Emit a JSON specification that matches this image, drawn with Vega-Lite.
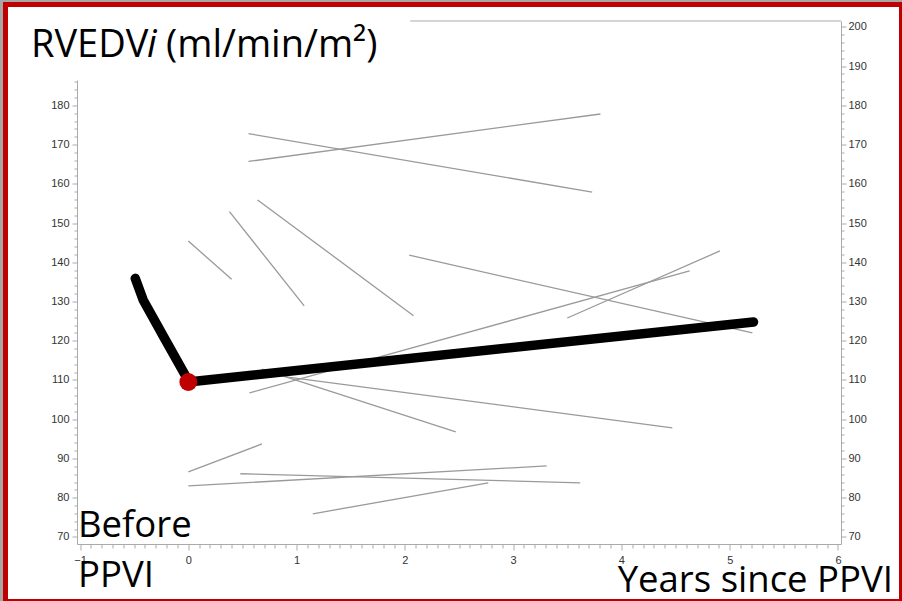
{
  "$schema": "https://vega.github.io/schema/vega-lite/v6.json",
  "width": 896,
  "height": 597,
  "autosize": {"type": "none"},
  "padding": {"left": 5.5, "top": 4.5, "right": 0, "bottom": 0},
  "background": "#a6a6a6",
  "config": {
    "view": {"fill": "white", "stroke": "#c00000", "strokeWidth": 5},
    "axis": {
      "grid": false,
      "title": null,
      "domainColor": "#aaaaaa",
      "tickColor": "#aaaaaa",
      "labelColor": "#333333",
      "labelFont": "Liberation Sans",
      "labelFontSize": 11
    }
  },
  "datasets": {
    "patients": [
      {"id": 1, "x": 0.556, "y": 165.7}, {"id": 1, "x": 3.806, "y": 177.8},
      {"id": 2, "x": 0.556, "y": 172.8}, {"id": 2, "x": 3.73, "y": 157.9},
      {"id": 3, "x": 0.0, "y": 145.4}, {"id": 3, "x": 0.4, "y": 135.7},
      {"id": 4, "x": 0.38, "y": 152.9}, {"id": 4, "x": 1.07, "y": 128.9},
      {"id": 5, "x": 0.64, "y": 155.9}, {"id": 5, "x": 2.08, "y": 126.4},
      {"id": 6, "x": 2.04, "y": 141.8}, {"id": 6, "x": 5.21, "y": 122.0},
      {"id": 7, "x": 0.565, "y": 106.7}, {"id": 7, "x": 4.63, "y": 137.8},
      {"id": 8, "x": 3.5, "y": 125.8}, {"id": 8, "x": 4.91, "y": 142.9},
      {"id": 9, "x": 0.68, "y": 112.8}, {"id": 9, "x": 2.47, "y": 96.8},
      {"id": 10, "x": 0.9, "y": 110.8}, {"id": 10, "x": 4.47, "y": 97.8},
      {"id": 11, "x": 0.0, "y": 86.6}, {"id": 11, "x": 0.68, "y": 93.7},
      {"id": 12, "x": 0.0, "y": 83.0}, {"id": 12, "x": 3.31, "y": 88.1},
      {"id": 13, "x": 0.48, "y": 86.1}, {"id": 13, "x": 3.62, "y": 83.8},
      {"id": 14, "x": 1.15, "y": 75.9}, {"id": 14, "x": 2.77, "y": 83.8}
    ],
    "mean": [
      {"x": -0.49, "y": 135.9},
      {"x": -0.417, "y": 130.4},
      {"x": -0.213, "y": 120.3},
      {"x": -0.028, "y": 111.2},
      {"x": 0.0, "y": 109.5},
      {"x": 5.22, "y": 124.8}
    ],
    "dot": [{"x": 0.0, "y": 109.5}],
    "frame": [{"x": 2.05, "x2": 6.028, "y": 201.5}],
    "titleNormal": [
      {"label": "RVEDV", "x": -1.453, "y": 192.3},
      {"label": "(ml/min/m²)", "x": -0.206, "y": 192.3}
    ],
    "titleItalic": [{"label": "i", "x": -0.382, "y": 192.3}],
    "textsLeft": [
      {"label": "Before", "x": -1.019, "y": 70.0},
      {"label": "PPVI", "x": -1.019, "y": 57.24}
    ],
    "textsRight": [{"label": "Years since PPVI", "x": 6.508, "y": 55.97}]
  },
  "layer": [
    {
      "data": {"name": "patients"},
      "mark": {"type": "line", "color": "#9a9a9a", "strokeWidth": 1.3},
      "encoding": {
        "detail": {"field": "id", "type": "nominal"},
        "x": {"field": "x", "type": "quantitative",
              "scale": {"domain": [-1.028, 6.028], "range": [71.5, 835.5], "nice": false, "zero": false},
              "axis": {"orient": "bottom", "offset": -57.5, "values": [-1, 0, 1, 2, 3, 4, 5, 6], "tickSize": 6, "labelPadding": 4}},
        "y": {"field": "y", "type": "quantitative",
              "scale": {"domain": [68.2, 201.5], "range": [539.5, 16.5], "nice": false, "zero": false},
              "axis": {"orient": "right", "offset": -60.5, "values": [70, 80, 90, 100, 110, 120, 130, 140, 150, 160, 170, 180, 190, 200], "tickSize": 5, "labelPadding": 2}}
      }
    },
    {
      "data": {"name": "mean"},
      "mark": {"type": "line", "color": "black", "strokeWidth": 9.5, "strokeCap": "round", "strokeJoin": "round"},
      "encoding": {
        "x": {"field": "x", "type": "quantitative",
              "scale": {"domain": [-1.028, 6.028], "range": [71.5, 835.5], "nice": false, "zero": false},
              "axis": {"orient": "bottom", "offset": -57.5, "domain": false, "labels": false, "tickSize": 4,
                       "values": [-0.9, -0.8, -0.7, -0.6, -0.5, -0.4, -0.3, -0.2, -0.1, 0.1, 0.2, 0.3, 0.4, 0.5, 0.6, 0.7, 0.8, 0.9, 1.1, 1.2, 1.3, 1.4, 1.5, 1.6, 1.7, 1.8, 1.9, 2.1, 2.2, 2.3, 2.4, 2.5, 2.6, 2.7, 2.8, 2.9, 3.1, 3.2, 3.3, 3.4, 3.5, 3.6, 3.7, 3.8, 3.9, 4.1, 4.2, 4.3, 4.4, 4.5, 4.6, 4.7, 4.8, 4.9, 5.1, 5.2, 5.3, 5.4, 5.5, 5.6, 5.7, 5.8, 5.9]}},
        "y": {"field": "y", "type": "quantitative",
              "scale": {"domain": [68.2, 201.5], "range": [539.5, 16.5], "nice": false, "zero": false},
              "axis": {"orient": "right", "offset": -60.5, "domain": false, "labels": false, "tickSize": 3,
                       "values": [72, 74, 76, 78, 82, 84, 86, 88, 92, 94, 96, 98, 102, 104, 106, 108, 112, 114, 116, 118, 122, 124, 126, 128, 132, 134, 136, 138, 142, 144, 146, 148, 152, 154, 156, 158, 162, 164, 166, 168, 172, 174, 176, 178, 182, 184, 186, 188, 192, 194, 196, 198]}}
      }
    },
    {
      "data": {"name": "dot"},
      "mark": {"type": "point", "filled": true, "color": "#c00000", "opacity": 1, "size": 320},
      "encoding": {
        "x": {"field": "x", "type": "quantitative",
              "scale": {"domain": [-1.028, 6.028], "range": [71.5, 835.5], "nice": false, "zero": false},
              "axis": null},
        "y": {"field": "y", "type": "quantitative",
              "scale": {"domain": [68.2, 186.46], "range": [539.5, 75.5], "nice": false, "zero": false},
              "axis": {"orient": "left", "offset": -71.5, "values": [70, 80, 90, 100, 110, 120, 130, 140, 150, 160, 170, 180], "tickSize": 5, "labelPadding": 3}}
      }
    },
    {
      "data": {"name": "frame"},
      "mark": {"type": "rule", "color": "#aaaaaa", "strokeWidth": 1},
      "encoding": {
        "x": {"field": "x", "type": "quantitative",
              "scale": {"domain": [-1.028, 6.028], "range": [71.5, 835.5], "nice": false, "zero": false},
              "axis": null},
        "x2": {"field": "x2"},
        "y": {"field": "y", "type": "quantitative",
              "scale": {"domain": [68.2, 186.46], "range": [539.5, 75.5], "nice": false, "zero": false},
              "axis": {"orient": "left", "offset": -71.5, "domain": false, "labels": false, "tickSize": 3,
                       "values": [72, 74, 76, 78, 82, 84, 86, 88, 92, 94, 96, 98, 102, 104, 106, 108, 112, 114, 116, 118, 122, 124, 126, 128, 132, 134, 136, 138, 142, 144, 146, 148, 152, 154, 156, 158, 162, 164, 166, 168, 172, 174, 176, 178, 182, 184, 186]}}
      }
    },
    {
      "data": {"name": "titleNormal"},
      "mark": {"type": "text", "font": "Open Sans", "fontSize": 38, "color": "black", "align": "left", "baseline": "alphabetic"},
      "encoding": {
        "text": {"field": "label"},
        "x": {"field": "x", "type": "quantitative",
              "scale": {"domain": [-1.028, 6.028], "range": [71.5, 835.5], "nice": false, "zero": false}, "axis": null},
        "y": {"field": "y", "type": "quantitative",
              "scale": {"domain": [68.2, 201.5], "range": [539.5, 16.5], "nice": false, "zero": false}, "axis": null}
      }
    },
    {
      "data": {"name": "titleItalic"},
      "mark": {"type": "text", "font": "Open Sans", "fontSize": 38, "fontStyle": "italic", "color": "black", "align": "left", "baseline": "alphabetic"},
      "encoding": {
        "text": {"field": "label"},
        "x": {"field": "x", "type": "quantitative",
              "scale": {"domain": [-1.028, 6.028], "range": [71.5, 835.5], "nice": false, "zero": false}, "axis": null},
        "y": {"field": "y", "type": "quantitative",
              "scale": {"domain": [68.2, 201.5], "range": [539.5, 16.5], "nice": false, "zero": false}, "axis": null}
      }
    },
    {
      "data": {"name": "textsLeft"},
      "mark": {"type": "text", "font": "Open Sans", "fontSize": 36.5, "color": "black", "align": "left", "baseline": "alphabetic"},
      "encoding": {
        "text": {"field": "label"},
        "x": {"field": "x", "type": "quantitative",
              "scale": {"domain": [-1.028, 6.028], "range": [71.5, 835.5], "nice": false, "zero": false}, "axis": null},
        "y": {"field": "y", "type": "quantitative",
              "scale": {"domain": [68.2, 201.5], "range": [539.5, 16.5], "nice": false, "zero": false}, "axis": null}
      }
    },
    {
      "data": {"name": "textsRight"},
      "mark": {"type": "text", "font": "Open Sans", "fontSize": 36.5, "color": "black", "align": "right", "baseline": "alphabetic"},
      "encoding": {
        "text": {"field": "label"},
        "x": {"field": "x", "type": "quantitative",
              "scale": {"domain": [-1.028, 6.028], "range": [71.5, 835.5], "nice": false, "zero": false}, "axis": null},
        "y": {"field": "y", "type": "quantitative",
              "scale": {"domain": [68.2, 201.5], "range": [539.5, 16.5], "nice": false, "zero": false}, "axis": null}
      }
    }
  ],
  "resolve": {
    "scale": {"x": "independent", "y": "independent"},
    "axis": {"x": "independent", "y": "independent"}
  }
}
